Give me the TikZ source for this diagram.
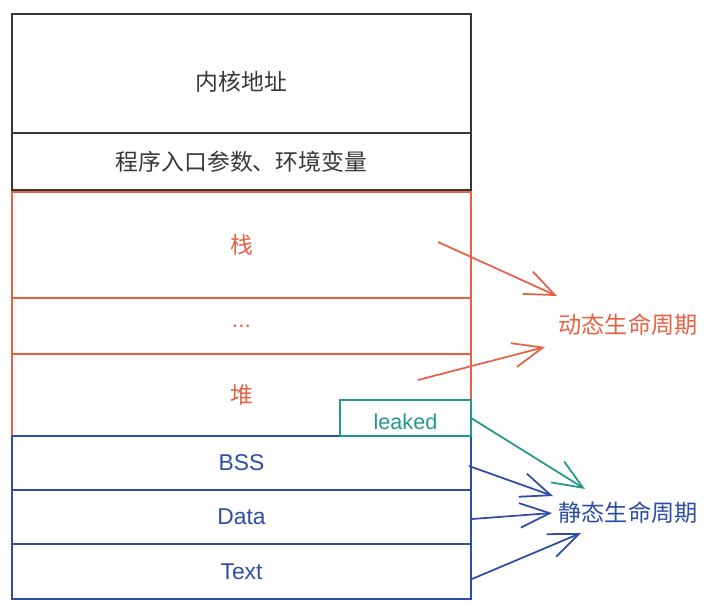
\documentclass[tikz,border=0pt]{standalone}
\usepackage{fontspec}
\setmainfont{Liberation Sans}
\newfontfamily\cjk{Noto Sans CJK SC}
\usepackage{tikz}
\usetikzlibrary{positioning, arrows.meta}
\definecolor{kerngray}{RGB}{55, 55, 55}
\definecolor{dynorange}{RGB}{232, 97, 68}
\definecolor{statblue}{RGB}{46, 77, 166}
\definecolor{leakteal}{RGB}{35, 153, 142}

\begin{document}
\begin{tikzpicture}[
        x=0.02cm, y=-0.02cm,
        seg/.style={rectangle, draw=kerngray, text=kerngray, line width=1.1pt, minimum width=9.18cm, inner sep=0pt, outer sep=0pt, font=\fontsize{13}{15}\selectfont},
        dynseg/.style={seg, draw=dynorange, text=dynorange},
        statseg/.style={seg, draw=statblue, text=statblue},
        life/.style={font=\cjk\fontsize{13.2}{15}\selectfont, inner sep=0pt},
        arrow/.style={-{Straight Barb[length=17pt, width=14pt]}, line width=1pt}
    ]
        \useasboundingbox (0,0) rectangle (721,612);

        % Kernel and arguments
        \node[seg, minimum height=2.38cm, text height=0.72cm] (kernel) at (241.5,73.5) {\cjk 内核地址};
        \node[seg, minimum height=1.14cm, below=0pt of kernel] (args) {\cjk 程序入口参数、环境变量};

        % Dynamic part
        \node[dynseg, minimum height=2.12cm, below=0.04cm of args] (stack) {\cjk 栈};
        \node[dynseg, minimum height=1.12cm, below=0pt of stack] (gap) {...};
        \node[dynseg, minimum height=1.64cm, below=0pt of gap] (heap) {\cjk 堆};

        % Static part
        \node[statseg, minimum height=1.08cm, below=0pt of heap] (bss) {BSS};
        \node[statseg, minimum height=1.08cm, below=0pt of bss] (data) {Data};
        \node[statseg, minimum height=1.1cm, below=0pt of data] (text) {Text};

        % Leak
        \node[rectangle, draw=leakteal, text=leakteal, line width=1.1pt, minimum width=2.62cm, minimum height=0.72cm, text height=0.46cm, inner sep=0pt, outer sep=0pt, font=\fontsize{12.3}{14}\selectfont, anchor=south east] (leaked) at (heap.south east) {leaked};

        % Labels
        \node[life, text=dynorange] (dynlife) at (628,325) {动态生命周期};
        \node[life, text=statblue] (statlife) at (628,513) {静态生命周期};

        % Arrow ends
        \coordinate (stacktail) at (438,242);
        \coordinate (heaptail) at (418,380);
        \coordinate (bsstail) at (469,466);
        \coordinate (datatail) at (472,519);
        \coordinate (texttail) at (472,579);
        \coordinate (dyntip1) at (557,296);
        \coordinate (dyntip2) at (545,347);
        \coordinate (leaktip) at (585,489);
        \coordinate (stattip1) at (553,496);
        \coordinate (stattip2) at (552,513);
        \coordinate (stattip3) at (581,533);

        % Arrows
        \draw[arrow, dynorange] (stacktail) -- (dyntip1);
        \draw[arrow, dynorange] (heaptail) -- (dyntip2);
        \draw[arrow, leakteal] (leaked.east) -- (leaktip);
        \draw[arrow, statblue] (bsstail) -- (stattip1);
        \draw[arrow, statblue] (datatail) -- (stattip2);
        \draw[arrow, statblue] (texttail) -- (stattip3);
    \end{tikzpicture}
\end{document}
